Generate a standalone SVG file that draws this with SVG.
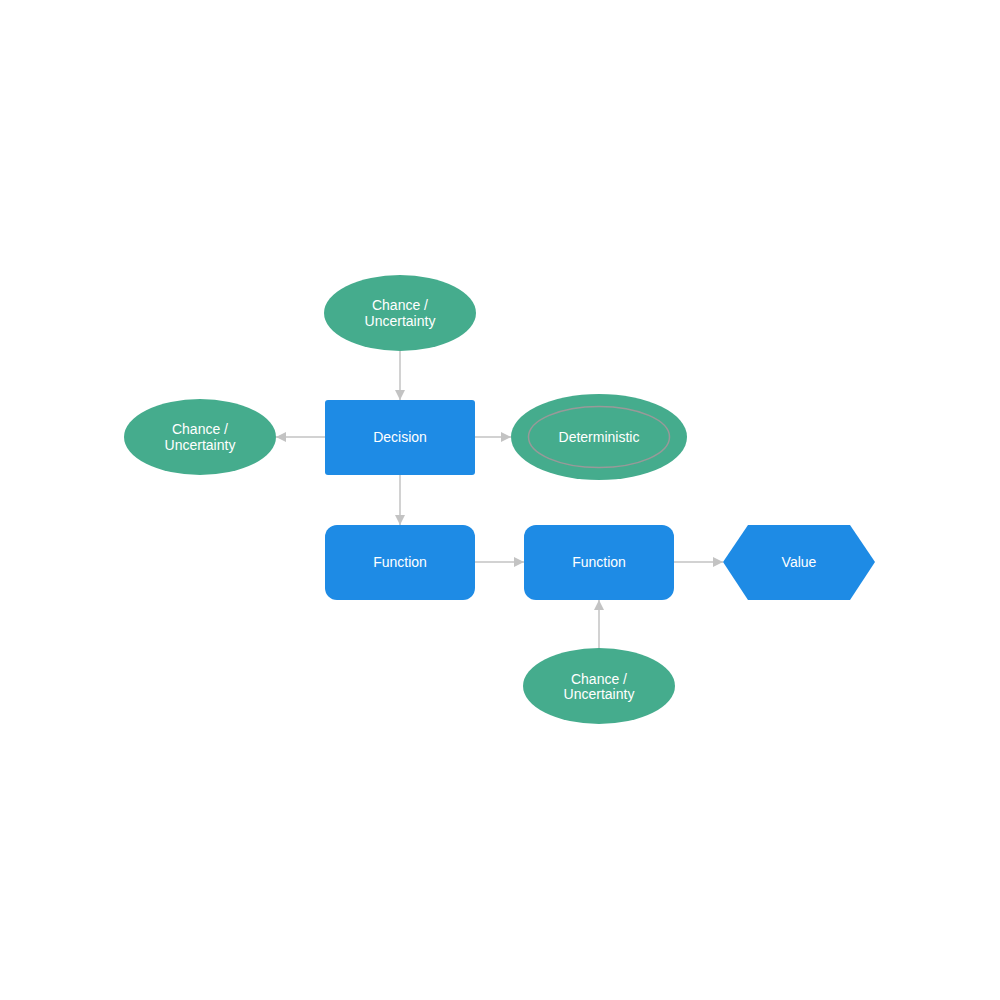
<svg xmlns="http://www.w3.org/2000/svg" width="1000" height="1000" viewBox="0 0 1000 1000">
<defs>
<style>
.g{fill:#45ac8d}
.b{fill:#1e8be5}
.t{fill:#fff;font-family:"Liberation Sans",Arial,sans-serif;font-size:14px;text-anchor:middle}
.c{stroke:#c3c3c3;stroke-width:1.5;fill:none;marker-end:url(#a)}
</style>
<marker id="a" viewBox="0 0 10 10" refX="10" refY="5" markerWidth="10" markerHeight="10" markerUnits="userSpaceOnUse" orient="auto">
<path d="M0,0 L10,5 L0,10 Z" fill="#c3c3c3"/>
</marker>
</defs>
<rect width="1000" height="1000" fill="#fff"/>
<g id="connectors">
<line class="c" x1="400" y1="351" x2="400" y2="400"/>
<line class="c" x1="325" y1="437" x2="276" y2="437"/>
<line class="c" x1="475" y1="437" x2="511" y2="437"/>
<line class="c" x1="400" y1="475" x2="400" y2="525"/>
<line class="c" x1="475" y1="562" x2="524" y2="562"/>
<line class="c" x1="674" y1="562" x2="723" y2="562"/>
<line class="c" x1="599" y1="648" x2="599" y2="600"/>
</g>
<g id="chance-top">
<ellipse class="g" cx="400" cy="313" rx="76" ry="38"/>
<text class="t" x="400" y="310">Chance /</text>
<text class="t" x="400" y="326">Uncertainty</text>
</g>
<g id="decision">
<rect class="b" x="325" y="400" width="150" height="75" rx="3"/>
<text class="t" x="400" y="442">Decision</text>
</g>
<g id="chance-left">
<ellipse class="g" cx="200" cy="437" rx="76" ry="38"/>
<text class="t" x="200" y="434">Chance /</text>
<text class="t" x="200" y="450">Uncertainty</text>
</g>
<g id="deterministic">
<ellipse class="g" cx="599" cy="437" rx="88" ry="43"/>
<ellipse cx="599" cy="437" rx="70.5" ry="30.5" fill="none" stroke="#999" stroke-width="1.5"/>
<text class="t" x="599" y="442">Deterministic</text>
</g>
<g id="function1">
<rect class="b" x="325" y="525" width="150" height="75" rx="12"/>
<text class="t" x="400" y="567">Function</text>
</g>
<g id="function2">
<rect class="b" x="524" y="525" width="150" height="75" rx="12"/>
<text class="t" x="599" y="567">Function</text>
</g>
<g id="value">
<polygon class="b" points="723,562 748,525 850,525 875,562 850,600 748,600"/>
<text class="t" x="799" y="567">Value</text>
</g>
<g id="chance-bottom">
<ellipse class="g" cx="599" cy="686" rx="76" ry="38"/>
<text class="t" x="599" y="684">Chance /</text>
<text class="t" x="599" y="699">Uncertainty</text>
</g>
</svg>
